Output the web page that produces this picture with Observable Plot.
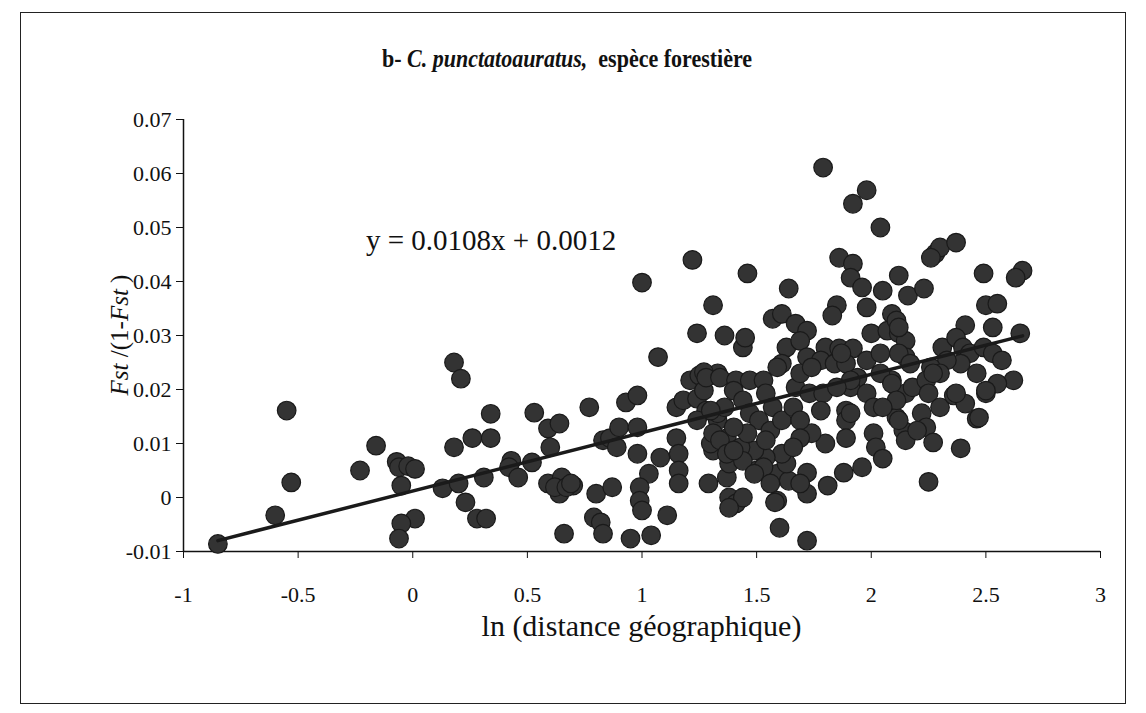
<!DOCTYPE html>
<html>
<head>
<meta charset="utf-8">
<script src="https://cdn.jsdelivr.net/npm/d3@7"></script>
<script src="https://cdn.jsdelivr.net/npm/@observablehq/plot@0.6"></script>
<style>
  html, body { margin: 0; padding: 0; background: #fff; }
  #wrap { position: relative; width: 1146px; height: 713px; background: #fff; overflow: hidden; font-family: "Liberation Serif", "Times New Roman", serif; color: #111; }
  #wrap div { font-family: "Liberation Serif", "Times New Roman", serif; }
  #frame { position: absolute; left: 20px; top: 12px; width: 1106px; height: 692px; border: 1.5px solid #222; box-sizing: border-box; }
  #title { position: absolute; top: 45px; left: 0; width: 1134px; text-align: center; font-size: 25px; font-weight: bold; transform: scaleX(0.88); transform-origin: 567px 0; }
  #eq { position: absolute; left: 366px; top: 224px; font-size: 29px; white-space: nowrap; }
  #xlab { position: absolute; left: 183px; width: 917px; top: 609px; text-align: center; font-size: 30px; }
  #ylab { position: absolute; left: 120px; top: 335px; font-size: 25px; white-space: nowrap; transform: translate(-50%, -50%) rotate(-90deg); }
  #chart { position: absolute; left: 0; top: 0; }
</style>
</head>
<body>
<div id="wrap">
  <div id="frame"></div>
  <div id="title">b- <i>C. punctatoauratus,</i>&nbsp; espèce forestière</div>
  <div id="eq"></div>
  <div id="xlab">ln (distance géographique)</div>
  <div id="ylab"><i>Fst</i> /(1-<i>Fst</i> )</div>
  <div id="chart"></div>
</div>
<script>
// ---- data ----
const xTicks = [-1, -0.5, 0, 0.5, 1, 1.5, 2, 2.5, 3];
const yTicks = [-0.01, 0, 0.01, 0.02, 0.03, 0.04, 0.05, 0.06, 0.07];
const slope = 0.0108;
const intercept = 0.0012;
const equationLabel = "y = 0.0108x + 0.0012";

const xVals = [
 -0.85,-0.60,-0.55,-0.53,-0.23,-0.16,-0.07,-0.06,-0.02,0.01,-0.05,0.01,-0.05,-0.06,
 0.13,0.18,0.21,0.18,0.20,0.23,0.28,0.32,0.26,0.34,0.34,0.31,0.43,0.42,0.46,0.52,
 0.53,0.59,0.64,0.60,0.59,0.65,0.64,0.70,0.62,0.67,0.66,0.77,0.80,0.87,0.79,0.82,
 0.83,0.83,0.86,0.89,0.90,0.98,0.98,0.93,0.98,0.95,1.04,1.11,1.03,0.99,0.99,1.00,
 1.08,1.07,1.00,1.15,1.16,1.16,1.16,1.15,1.18,1.24,1.21,1.25,1.33,1.24,1.36,1.31,
 1.29,1.37,1.38,1.31,1.33,1.37,1.38,1.41,1.44,1.45,1.22,1.28,1.33,1.24,1.30,1.31,
 1.27,0.69,
 1.79,1.98,1.92,2.04,1.86,1.92,1.91,1.96,2.05,2.12,2.16,1.85,1.83,1.98,2.09,1.46,
 1.64,1.57,1.61,1.67,1.72,1.63,1.61,1.69,1.72,1.80,1.86,1.92,2.00,2.07,2.12,2.11,
 2.15,1.78,1.84,1.89,1.98,2.04,2.15,1.94,1.91,1.98,2.01,2.09,2.15,2.18,1.89,1.89,
 1.89,2.01,2.02,2.05,2.11,2.14,2.15,1.96,1.88,1.81,1.80,1.74,1.72,1.72,1.59,1.60,
 1.72,1.44,1.50,1.59,1.64,1.69,1.63,1.61,1.54,1.49,1.43,1.34,1.36,1.27,1.28,1.34,
 1.41,1.47,1.53,1.59,1.40,1.44,1.47,1.54,1.57,1.51,1.56,1.61,1.66,1.67,1.69,1.74,
 1.73,1.79,1.78,1.69,1.69,1.66,1.54,1.46,1.40,1.37,1.44,1.53,1.56,1.49,2.25,2.04,
 2.28,2.30,2.37,2.23,2.49,2.66,2.63,2.50,2.55,2.53,2.41,2.65,2.12,2.12,2.17,2.31,
 2.37,2.40,2.43,2.49,2.53,2.57,2.46,2.39,2.33,2.26,2.30,2.24,2.62,2.55,2.50,2.09,
 2.11,2.25,2.30,2.36,2.41,2.46,2.05,2.12,2.22,2.24,2.27,2.39,
 2.47,2.37,2.20,2.50,2.27,1.91,1.91,1.85,1.87,1.30,1.40,2.26,1.58,1.38
];
const yVals = [
 -0.0086,-0.0033,0.0161,0.0028,0.0050,0.0096,0.0066,0.0056,0.0058,0.0053,0.0022,-0.0039,-0.0048,-0.0076,
 0.0017,0.0250,0.0220,0.0093,0.0026,-0.0009,-0.0039,-0.0039,0.0110,0.0110,0.0155,0.0037,0.0068,0.0056,0.0037,0.0065,
 0.0157,0.0128,0.0137,0.0093,0.0026,0.0037,0.0007,0.0022,0.0019,0.0019,-0.0067,0.0167,0.0007,0.0019,-0.0037,-0.0046,
 -0.0067,0.0106,0.0110,0.0093,0.0130,0.0130,0.0081,0.0176,0.0189,-0.0076,-0.0070,-0.0033,0.0044,0.0019,-0.0006,-0.0024,
 0.0074,0.0260,0.0398,0.0110,0.0081,0.0050,0.0026,0.0167,0.0180,0.0183,0.0217,0.0226,0.0230,0.0304,0.0300,0.0356,
 0.0026,0.0037,0.0063,0.0087,0.0143,0.0110,0.0000,-0.0011,0.0278,0.0296,0.0440,0.0161,0.0156,0.0143,0.0100,0.0119,
 0.0232,0.0026,
 0.0611,0.0569,0.0544,0.0500,0.0444,0.0433,0.0407,0.0389,0.0383,0.0411,0.0374,0.0356,0.0337,0.0352,0.0340,0.0415,
 0.0387,0.0331,0.0340,0.0322,0.0309,0.0278,0.0248,0.0290,0.0260,0.0278,0.0276,0.0276,0.0304,0.0309,0.0304,0.0328,
 0.0290,0.0254,0.0248,0.0248,0.0254,0.0267,0.0260,0.0222,0.0204,0.0193,0.0167,0.0217,0.0193,0.0204,0.0161,0.0143,
 0.0110,0.0119,0.0093,0.0072,0.0148,0.0124,0.0106,0.0056,0.0046,0.0022,0.0100,0.0119,0.0046,0.0007,-0.0006,-0.0056,
 -0.0080,0.0000,0.0050,0.0044,0.0031,0.0026,0.0063,0.0081,0.0074,0.0087,0.0093,0.0106,0.0167,0.0198,0.0222,0.0222,
 0.0217,0.0217,0.0217,0.0241,0.0198,0.0180,0.0156,0.0193,0.0167,0.0143,0.0124,0.0143,0.0167,0.0204,0.0230,0.0241,
 0.0193,0.0193,0.0161,0.0143,0.0110,0.0093,0.0106,0.0119,0.0130,0.0081,0.0068,0.0056,0.0026,0.0044,0.0029,0.0230,
 0.0452,0.0463,0.0472,0.0387,0.0415,0.0420,0.0407,0.0356,0.0359,0.0315,0.0319,0.0304,0.0315,0.0267,0.0248,0.0278,
 0.0296,0.0278,0.0267,0.0278,0.0267,0.0254,0.0230,0.0248,0.0254,0.0241,0.0230,0.0217,0.0217,0.0211,0.0193,0.0211,
 0.0180,0.0193,0.0167,0.0189,0.0174,0.0146,0.0167,0.0143,0.0156,0.0130,0.0102,0.0091,
 0.0148,0.0193,0.0124,0.0198,0.0230,0.0217,0.0156,0.0204,0.0267,0.0161,0.0087,0.0444,-0.0009,-0.0019
];

const pts = xVals.map((x, i) => ({x, y: yVals[i]}));
const xr = d3.extent(xVals);
const fit = xr.map(x => ({x, y: slope * x + intercept}));

document.getElementById("eq").textContent = equationLabel;

const fmtY = d => d === 0 ? "0" : d.toFixed(2);
const fmtX = d => String(d);

const chart = Plot.plot({
  width: 1146,
  height: 713,
  marginLeft: 183,
  marginRight: 46,
  marginTop: 119,
  marginBottom: 162,
  style: { fontFamily: "Liberation Serif, Times New Roman, serif", fontSize: "22px", color: "#111", background: "transparent", overflow: "visible" },
  x: { domain: [-1, 3] },
  y: { domain: [-0.01, 0.07] },
  marks: [
    Plot.axisX({ ticks: xTicks, tickFormat: fmtX, tickSize: 7, tickPadding: 28, label: null, fontSize: 22, stroke: "#111", fontFamily: "Liberation Serif" }),
    Plot.axisY({ ticks: yTicks, tickFormat: fmtY, tickSize: 7, tickPadding: 5, label: null, fontSize: 22, stroke: "#111", fontFamily: "Liberation Serif" }),
    Plot.ruleY([-0.01], { stroke: "#111", strokeWidth: 1.5 }),
    Plot.ruleX([-1], { stroke: "#111", strokeWidth: 1.5 }),
    Plot.dot(pts, { x: "x", y: "y", r: 9.3, fill: "#333", stroke: "#1a1a1a", strokeWidth: 1.2 }),
    Plot.line(fit, { x: "x", y: "y", stroke: "#1a1a1a", strokeWidth: 3.5 })
  ]
});
document.getElementById("chart").appendChild(chart);
</script>
</body>
</html>
